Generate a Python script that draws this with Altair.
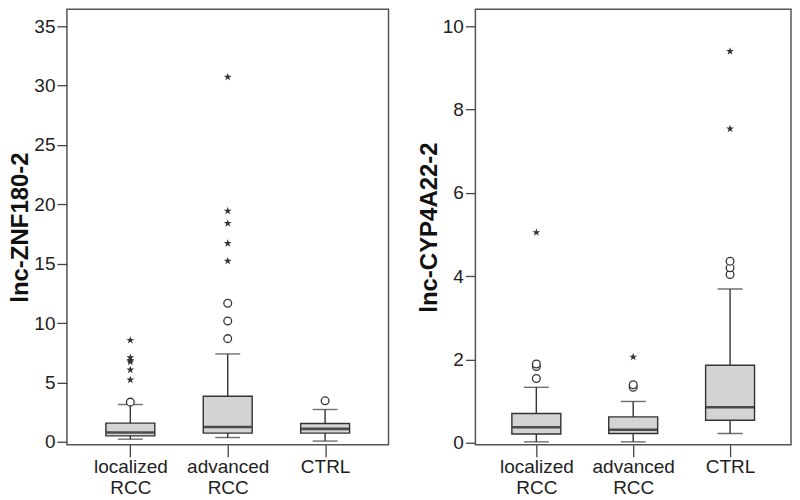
import altair as alt
import pandas as pd

groups = ["localized RCC", "advanced RCC", "CTRL"]

# Panel 1: lnc-ZNF180-2
p1_wlo = [0.22, 0.36, 0.06]
p1_q1 = [0.50, 0.73, 0.73]
p1_med = [0.78, 1.24, 1.09]
p1_q3 = [1.57, 3.84, 1.54]
p1_whi = [3.14, 7.40, 2.72]
p1_out_group = ["localized RCC", "localized RCC", "localized RCC", "localized RCC", "localized RCC",
                "localized RCC", "localized RCC",
                "advanced RCC", "advanced RCC", "advanced RCC", "advanced RCC", "advanced RCC",
                "advanced RCC", "advanced RCC", "advanced RCC",
                "CTRL"]
p1_out_value = [3.34, 8.56, 7.09, 6.87, 6.73, 6.06, 5.22,
                8.69, 10.18, 11.67, 15.23, 16.72, 18.40, 19.44, 30.73,
                3.45]
p1_out_kind = ["circle", "star", "star", "star", "star", "star", "star",
               "circle", "circle", "circle", "star", "star", "star", "star", "star",
               "circle"]

# Panel 2: lnc-CYP4A22-2
p2_wlo = [0.02, 0.02, 0.22]
p2_q1 = [0.21, 0.22, 0.54]
p2_med = [0.37, 0.31, 0.85]
p2_q3 = [0.70, 0.62, 1.86]
p2_whi = [1.33, 0.99, 3.69]
p2_out_group = ["localized RCC", "localized RCC", "localized RCC", "localized RCC",
                "advanced RCC", "advanced RCC", "advanced RCC",
                "CTRL", "CTRL", "CTRL", "CTRL", "CTRL"]
p2_out_value = [1.54, 1.83, 1.89, 5.05,
                1.33, 1.39, 2.06,
                4.04, 4.20, 4.36, 7.54, 9.40]
p2_out_kind = ["circle", "circle", "circle", "star",
               "circle", "circle", "star",
               "circle", "circle", "circle", "star", "star"]

STAR = ("M0,-1L0.223,-0.307L0.951,-0.309L0.361,0.117L0.588,0.809L0,0.38"
        "L-0.588,0.809L-0.361,0.117L-0.951,-0.309L-0.223,-0.307Z")

FONT = "Liberation Sans"
DARK = "#333333"


def panel(wlo, q1, med, q3, whi, og, ov, ok, title, domain, ticks, width, pad, align):
    stats = pd.DataFrame({"group": groups, "wlo": wlo, "q1": q1, "med": med,
                          "q3": q3, "whi": whi})
    outs = pd.DataFrame({"group": og, "value": ov, "kind": ok})
    x = alt.X("group:N", sort=groups,
              scale=alt.Scale(type="point", padding=pad, align=align),
              axis=alt.Axis(title=None, labelAngle=0, domain=False, tickSize=12,
                            labelExpr="split(datum.label, ' ')",
                            labelLineHeight=21, labelPadding=1,
                            labelFont=FONT, labelFontSize=19, labelColor="#222",
                            tickColor="#444", tickWidth=1.3))
    yscale = alt.Scale(domain=domain, nice=False, zero=False)
    yaxis = alt.Axis(title=title, values=ticks, domain=False, grid=False,
                     tickSize=10, tickColor="#444", tickWidth=1.3,
                     labelFont=FONT, labelFontSize=19, labelColor="#222",
                     labelPadding=2,
                     titleFont=FONT, titleFontSize=24, titleFontWeight="bold",
                     titleColor="#111", titlePadding=1)
    base = alt.Chart(stats)
    whisk = base.mark_rule(color=DARK, strokeWidth=1.4).encode(
        x=x, y=alt.Y("wlo:Q", scale=yscale, axis=yaxis), y2="whi:Q")
    cap_lo = base.mark_tick(color=DARK, size=25, thickness=1.4).encode(
        x=x, y=alt.Y("wlo:Q", scale=yscale))
    cap_hi = base.mark_tick(color=DARK, size=25, thickness=1.4).encode(
        x=x, y=alt.Y("whi:Q", scale=yscale))
    box = base.mark_bar(size=49, fill="#d4d4d4", stroke=DARK, strokeWidth=1.4).encode(
        x=x, y=alt.Y("q1:Q", scale=yscale), y2="q3:Q")
    median = base.mark_tick(color="#111", size=48, thickness=2.6).encode(
        x=x, y=alt.Y("med:Q", scale=yscale))
    ob = alt.Chart(outs)
    circ = ob.transform_filter("datum.kind == 'circle'").mark_point(
        shape="circle", filled=False, fill="white", fillOpacity=1, stroke=DARK,
        strokeWidth=1.3, size=60, opacity=1).encode(
        x=x, y=alt.Y("value:Q", scale=yscale))
    star = ob.transform_filter("datum.kind == 'star'").mark_point(
        shape=STAR, filled=True, color=DARK, size=70, opacity=1).encode(
        x=x, y=alt.Y("value:Q", scale=yscale))
    return alt.layer(whisk, cap_lo, cap_hi, box, median, circ, star).properties(
        width=width, height=436)


left = panel(p1_wlo, p1_q1, p1_med, p1_q3, p1_whi, p1_out_group, p1_out_value,
             p1_out_kind, "lnc-ZNF180-2", [-0.25, 36.43], [0, 5, 10, 15, 20, 25, 30, 35],
             322, 0.651, 0.5)
right = panel(p2_wlo, p2_q1, p2_med, p2_q3, p2_whi, p2_out_group, p2_out_value,
              p2_out_kind, "lnc-CYP4A22-2", [-0.05, 10.41], [0, 2, 4, 6, 8, 10],
              316, 0.629, 0.5)

chart = alt.hconcat(left, right, spacing=27).properties(padding=0).configure(
    background="white").configure_view(stroke="#555555", strokeWidth=1.5)

chart.save("out.html", embed_options={"renderer": "svg", "actions": False})
